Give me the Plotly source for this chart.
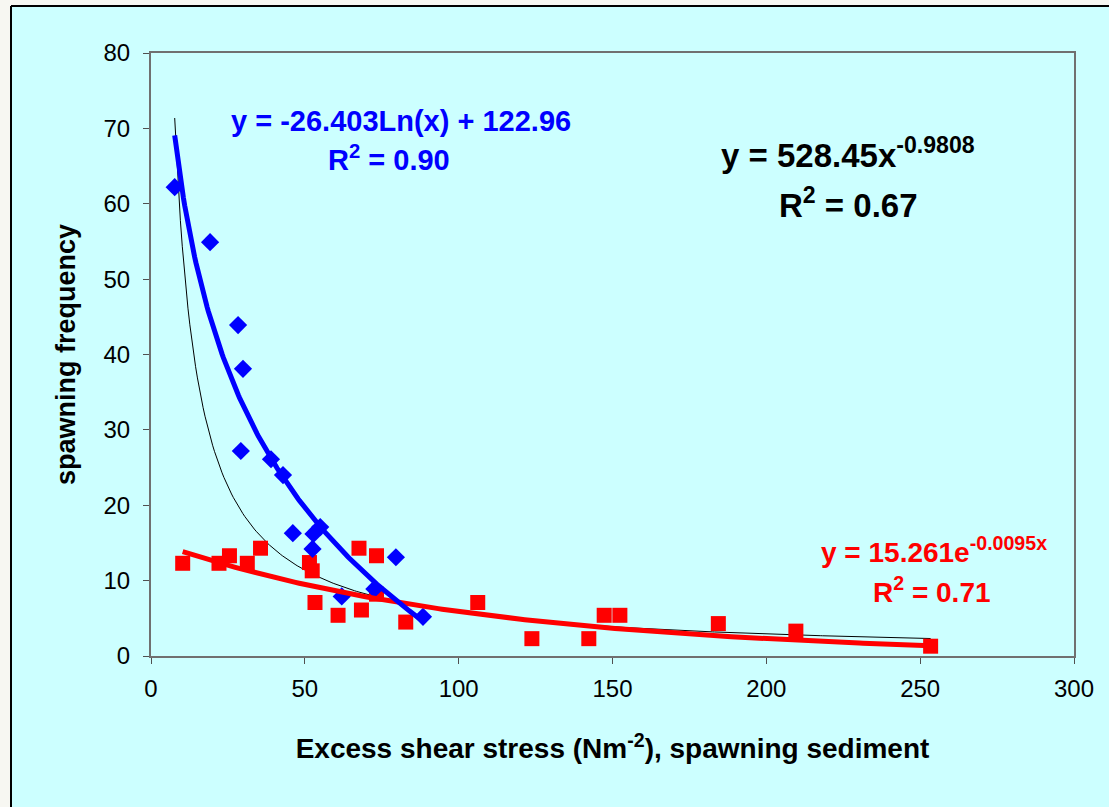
import numpy as np
import plotly.graph_objects as go

# Observations read per stress class
blue_x = [7.7, 19.2, 28.3, 29.9, 29.2, 39.0, 42.9, 46.1, 52.8, 55.0, 52.5, 79.6, 62.0, 72.6, 88.4]
blue_y = [62.2, 54.9, 43.9, 38.1, 27.2, 26.1, 24.0, 16.3, 16.2, 17.1, 14.2, 13.1, 7.9, 8.9, 5.2]

red_x = [10.3, 22.1, 25.5, 31.3, 35.6, 51.5, 52.4, 53.3, 60.8, 67.6, 68.4, 73.3, 73.3,
         82.8, 106.2, 123.8, 142.3, 147.3, 152.4, 184.4, 209.6, 253.4]
red_y = [12.3, 12.3, 13.3, 12.3, 14.3, 12.4, 11.3, 7.1, 5.4, 14.3, 6.1, 13.3, 8.2,
         4.5, 7.1, 2.3, 2.3, 5.4, 5.4, 4.3, 3.3, 1.3]

# Fitted trend coefficients (as printed on the chart)
log_a, log_b = -26.403, 122.96          # y = a ln(x) + b   (blue)
exp_a, exp_k = 15.261, -0.0095          # y = a e^(k x)     (red)
pow_a, pow_k = 528.45, -0.9808          # y = a x^k         (all points)

x_ticks = [0, 50, 100, 150, 200, 250, 300]
y_ticks = [0, 10, 20, 30, 40, 50, 60, 70, 80]

CYAN = "#CCFFFF"
BLUE = "#0000FF"
RED = "#FF0000"

all_x = blue_x + red_x
xb = np.linspace(min(blue_x), max(blue_x), 200)
xr = np.linspace(min(red_x), max(red_x), 200)
xa = np.linspace(min(all_x), max(all_x), 400)

fig = go.Figure()

fig.add_trace(go.Scatter(x=xa, y=pow_a * xa ** pow_k, mode="lines",
                         line=dict(color="black", width=1), hoverinfo="skip"))
fig.add_trace(go.Scatter(x=red_x, y=red_y, mode="markers",
                         marker=dict(symbol="square", size=15, color=RED)))
fig.add_trace(go.Scatter(x=blue_x, y=blue_y, mode="markers",
                         marker=dict(symbol="diamond", size=14, color=BLUE)))
fig.add_trace(go.Scatter(x=xr, y=exp_a * np.exp(exp_k * xr), mode="lines",
                         line=dict(color=RED, width=5), hoverinfo="skip"))
fig.add_trace(go.Scatter(x=xb, y=log_a * np.log(xb) + log_b, mode="lines",
                         line=dict(color=BLUE, width=5), hoverinfo="skip"))

L, R, T, B = 151, 35, 53, 151
W, H = 1109, 807
pw, ph = W - L - R, H - T - B

def px(xp):
    return (xp - L) / pw

def py(yp):
    return (H - B - yp) / ph

FONT = "Liberation Sans, Arial, sans-serif"

def label(x, y, text, color, size):
    fig.add_annotation(x=px(x), y=py(y), xref="paper", yref="paper", text=text,
                       showarrow=False, xanchor="center", yanchor="middle",
                       font=dict(family=FONT, size=size, color=color, weight="bold"))

label(401, 121, "y = -26.403Ln(x) + 122.96", BLUE, 29)
label(389, 158, "R<sup>2</sup> = 0.90", BLUE, 29)
label(848, 153, "y = 528.45x<sup>-0.9808</sup>", "black", 33)
label(848, 203, "R<sup>2</sup> = 0.67", "black", 33)
label(934, 550, "y = 15.261e<sup>-0.0095x</sup>", RED, 28)
label(932, 590, "R<sup>2</sup> = 0.71", RED, 28)

# frame of the chart sheet: off-white strip along top/left edge with a black border
fig.add_shape(type="rect", xref="paper", yref="paper", x0=px(-5), x1=px(11), y0=py(-5), y1=py(H + 5),
              fillcolor="#F7F7F2", line=dict(width=0), layer="below")
fig.add_shape(type="rect", xref="paper", yref="paper", x0=px(-5), x1=px(W + 5), y0=py(-5), y1=py(6),
              fillcolor="#F7F7F2", line=dict(width=0), layer="below")
fig.add_shape(type="line", xref="paper", yref="paper", x0=px(11), x1=px(11), y0=py(6), y1=py(H + 5),
              line=dict(color="black", width=2))
fig.add_shape(type="line", xref="paper", yref="paper", x0=px(11), x1=px(W + 5), y0=py(6), y1=py(6),
              line=dict(color="black", width=2))

axis_common = dict(showgrid=False, zeroline=False, showline=True, linecolor="#707070", linewidth=2,
                   mirror=True, ticks="outside", ticklen=6, tickcolor="#505050", tickwidth=1,
                   tickfont=dict(family=FONT, size=24, color="black"))

fig.update_xaxes(range=[0, 300], tickvals=x_ticks, ticktext=[str(v) for v in x_ticks],
                 ticklabelstandoff=4,
                 title=dict(text="Excess shear stress (Nm<sup>-2</sup>), spawning sediment",
                            font=dict(family=FONT, size=28, color="black", weight="bold"), standoff=38),
                 **axis_common)
fig.update_yaxes(range=[0, 80], tickvals=y_ticks, ticktext=[str(v) for v in y_ticks],
                 ticklabelstandoff=8,
                 title=dict(text="spawning frequency",
                            font=dict(family=FONT, size=27, color="black", weight="bold"), standoff=20),
                 **axis_common)

fig.update_layout(width=W, height=H, margin=dict(l=L, r=R, t=T, b=B, pad=0),
                  paper_bgcolor=CYAN, plot_bgcolor=CYAN, showlegend=False)

fig.write_html("out.html")
